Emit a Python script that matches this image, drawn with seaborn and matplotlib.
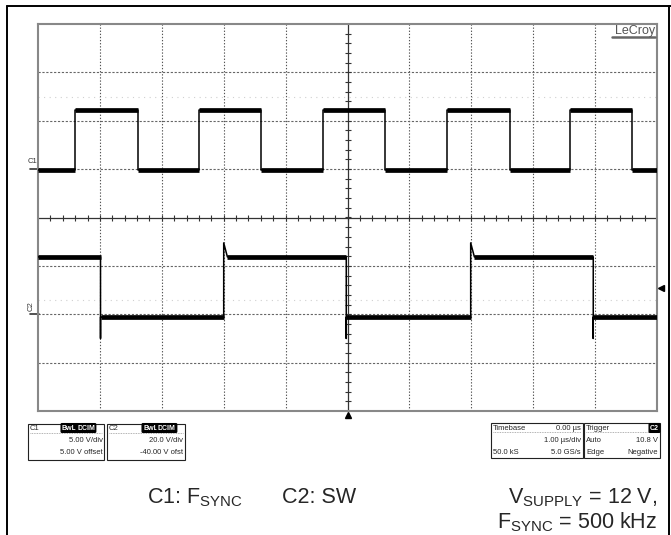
import numpy as np
import pandas as pd
import matplotlib
matplotlib.use("Agg")
import matplotlib.pyplot as plt
import seaborn as sns
from matplotlib.patches import Rectangle
from matplotlib.lines import Line2D

# ---------------- data ----------------
time_span = [-5.0, 5.0]            # µs, 1 µs/div, trigger at centre
# C1: F_SYNC (5 V/div, 5 V offset)
c1_vdiv = 5.0
c1_offset = 5.0
c1_rise = [-4.40, -2.40, -0.40, 1.60, 3.59]
c1_fall = [-3.38, -1.39, 0.61, 2.62, 4.60]
c1_low = -0.1
c1_high = 6.1
# C2: SW (20 V/div, -40 V offset)
c2_vdiv = 20.0
c2_offset = -40.0
c2_fall = [-3.99, -0.02, 3.97]
c2_rise = [-2.00, 1.99]
c2_low = -1.2
c2_high = 23.7
c2_fall_spike = -10.0
c2_rise_spike = 29.5
c2_rise_settle = 0.06
trigger_level = 10.8               # V on C2

W, H = 671, 535


def fx(x):
    return x / W


def fy(y):
    return 1 - y / H


def build(rise, fall, lo, hi, rise_spike=None, fall_spike=None, settle=0.0):
    edges = sorted([(e, "r") for e in rise] + [(e, "f") for e in fall])
    state_hi = edges[0][1] == "f"
    t = [time_span[0]]
    v = [hi if state_hi else lo]
    plateaus = []
    start = time_span[0]
    for e, kind in edges:
        plateaus.append((start, e, hi if state_hi else lo))
        if kind == "f":
            if fall_spike is not None:
                t += [e, e, e]
                v += [hi, fall_spike, lo]
            else:
                t += [e, e]
                v += [hi, lo]
            start = e
            state_hi = False
        else:
            if rise_spike is not None:
                t += [e, e, e + settle]
                v += [lo, rise_spike, hi]
                start = e + settle
            else:
                t += [e, e]
                v += [lo, hi]
                start = e
            state_hi = True
    t.append(time_span[1])
    v.append(hi if state_hi else lo)
    plateaus.append((start, time_span[1], hi if state_hi else lo))
    return t, v, plateaus


c1_t, c1_v, c1_pl = build(c1_rise, c1_fall, c1_low, c1_high)
c2_t, c2_v, c2_pl = build(c2_rise, c2_fall, c2_low, c2_high,
                          c2_rise_spike, c2_fall_spike, c2_rise_settle)

df1 = pd.DataFrame({"t": c1_t, "div": [(x + c1_offset) / c1_vdiv for x in c1_v]})
df2 = pd.DataFrame({"t": c2_t, "div": [(x + c2_offset) / c2_vdiv for x in c2_v]})

# ---------------- figure ----------------
sns.set_style("white")
plt.rcParams["font.family"] = ["Liberation Sans", "DejaVu Sans"]
plt.rcParams["mathtext.fontset"] = "custom"
plt.rcParams["mathtext.rm"] = "Liberation Sans"

fig = plt.figure(figsize=(6.71, 5.35), dpi=100)
ax = fig.add_axes([fx(38), fy(411), (657 - 38) / W, (411 - 24) / H])
ax.set_xlim(*time_span)
ax.set_ylim(-4, 4)
ax.set_xticks([])
ax.set_yticks([])
for s in ax.spines.values():
    s.set_color("#888888")
    s.set_linewidth(1.5)

# grid
for gx in [-4, -3, -2, -1, 1, 2, 3, 4]:
    ax.axvline(gx, color="#555555", lw=0.8, ls=(0, (1.2, 1.6)), zorder=1)
for gy in [-3, -2, -1, 1, 2, 3]:
    ax.axhline(gy, color="#666666", lw=0.8, ls=(0, (2.0, 1.5)), zorder=1)
for gy in [2.49, -1.7]:
    ax.axhline(gy, color="#d0d0d0", lw=0.8, ls=(0, (1, 4)), zorder=1)
# centre axes with minor ticks
ax.axhline(0, color="#333333", lw=0.9, zorder=2)
ax.axvline(0, color="#333333", lw=0.9, zorder=2)
tx = np.arange(-4.8, 4.81, 0.2)
ax.plot(tx, np.zeros_like(tx), ls="none", marker="|", ms=4, mew=0.8, color="#333333", zorder=2)
ty = np.arange(-3.8, 3.81, 0.2)
ax.plot(np.zeros_like(ty), ty, ls="none", marker="_", ms=4, mew=0.8, color="#333333", zorder=2)

# traces
sns.lineplot(data=df1, x="t", y="div", estimator=None, sort=False, color="black", lw=1.1, ax=ax, zorder=4)
sns.lineplot(data=df2, x="t", y="div", estimator=None, sort=False, color="black", lw=1.1, ax=ax, zorder=4)
for a, b, lv in c1_pl:
    ax.hlines((lv + c1_offset) / c1_vdiv, a, b, color="black", lw=3.4, zorder=4)
for a, b, lv in c2_pl:
    ax.hlines((lv + c2_offset) / c2_vdiv, a, b, color="black", lw=3.4, zorder=4)
ax.set_xlabel("")
ax.set_ylabel("")

# trigger markers
trig_div = (trigger_level + c2_offset) / c2_vdiv
ax.plot([5.07], [trig_div], marker="<", ms=5, color="black", clip_on=False, zorder=5)
ax.plot([0], [-4.09], marker="^", ms=5, color="black", clip_on=False, zorder=5)

# channel ground markers
c1_gnd = (0 + c1_offset) / c1_vdiv
c2_gnd = (0 + c2_offset) / c2_vdiv
ax.plot([-5.13, -4.99], [c1_gnd, c1_gnd], color="#333333", lw=1.2, clip_on=False)
ax.plot([-5.13, -4.99], [c2_gnd, c2_gnd], color="#333333", lw=1.2, clip_on=False)
ax.text(-5.17, c1_gnd + 0.08, "C1", fontsize=5.5, color="#333333", ha="left", va="bottom")
ax.text(-5.17, c2_gnd + 0.06, "C2", fontsize=5.5, color="#333333", ha="left", va="bottom", rotation=90)

# LeCroy logo
fig.text(fx(655), fy(31), "LeCroy", fontsize=9, color="#555555", ha="right", va="center")
fig.add_artist(Line2D([fx(612), fx(655)], [fy(37), fy(37)], color="#666666", lw=1.8))

# outer frame
fig.add_artist(Line2D([fx(7), fx(7)], [fy(6), 0], color="black", lw=1.4))
fig.add_artist(Line2D([fx(7), fx(671)], [fy(6), fy(6)], color="black", lw=1.4))
fig.add_artist(Line2D([fx(669), fx(669)], [fy(6), 0], color="black", lw=1.4))

# info boxes
def box(x0, y0, x1, y1, sep=True):
    fig.add_artist(Rectangle((fx(x0), fy(y1)), (x1 - x0) / W, (y1 - y0) / H,
                             transform=fig.transFigure, fill=False, ec="#222222", lw=0.8))
    if sep:
        fig.add_artist(Line2D([fx(x0 + 2), fx(x1 - 2)], [fy(y0 + 9), fy(y0 + 9)],
                              color="#999999", lw=0.6, ls=(0, (1, 1))))


def badge(x, y, s):
    fig.text(fx(x), fy(y), s, fontsize=5, color="white", ha="left", va="center", weight="bold",
             bbox=dict(boxstyle="round,pad=0.12", fc="black", ec="black"))


fs = 5.5
box(28, 424, 104, 460)
fig.text(fx(30), fy(428), "C1", fontsize=fs, ha="left", va="center")
badge(62, 428, "BwL")
badge(77, 428, "DCIM")
fig.text(fx(103), fy(441), "5.00 V/div", fontsize=fs, ha="right", va="center")
fig.text(fx(103), fy(452), "5.00 V offset", fontsize=fs, ha="right", va="center")

box(107, 424, 185, 460)
fig.text(fx(109), fy(428), "C2", fontsize=fs, ha="left", va="center")
badge(143, 428, "BwL")
badge(158, 428, "DCIM")
fig.text(fx(183), fy(441), "20.0 V/div", fontsize=fs, ha="right", va="center")
fig.text(fx(183), fy(452), "-40.00 V ofst", fontsize=fs, ha="right", va="center")

box(491, 423, 583, 458)
fig.text(fx(493), fy(428), "Timebase", fontsize=fs, ha="left", va="center")
fig.text(fx(581), fy(428), "0.00 µs", fontsize=fs, ha="right", va="center")
fig.text(fx(581), fy(440), "1.00 µs/div", fontsize=fs, ha="right", va="center")
fig.text(fx(493), fy(452), "50.0 kS", fontsize=fs, ha="left", va="center")
fig.text(fx(581), fy(452), "5.0 GS/s", fontsize=fs, ha="right", va="center")

box(584, 423, 660, 458)
fig.text(fx(586), fy(428), "Trigger", fontsize=fs, ha="left", va="center")
badge(650, 428, "C2")
fig.text(fx(586), fy(440), "Auto", fontsize=fs, ha="left", va="center")
fig.text(fx(658), fy(440), "10.8 V", fontsize=fs, ha="right", va="center")
fig.text(fx(586), fy(452), "Edge", fontsize=fs, ha="left", va="center")
fig.text(fx(658), fy(452), "Negative", fontsize=fs, ha="right", va="center")

# captions
cap = 15.5
fig.text(fx(147), fy(503), r"C1: F$_{\mathregular{SYNC}}$", fontsize=cap, ha="left", va="baseline")
fig.text(fx(282), fy(503), "C2: SW", fontsize=cap, ha="left", va="baseline")
fig.text(fx(657), fy(503), r"V$_{\mathregular{SUPPLY}}$ = 12 V,", fontsize=cap, ha="right", va="baseline")
fig.text(fx(657), fy(528), r"F$_{\mathregular{SYNC}}$ = 500 kHz", fontsize=cap, ha="right", va="baseline")

fig.savefig("out.png", dpi=100)
